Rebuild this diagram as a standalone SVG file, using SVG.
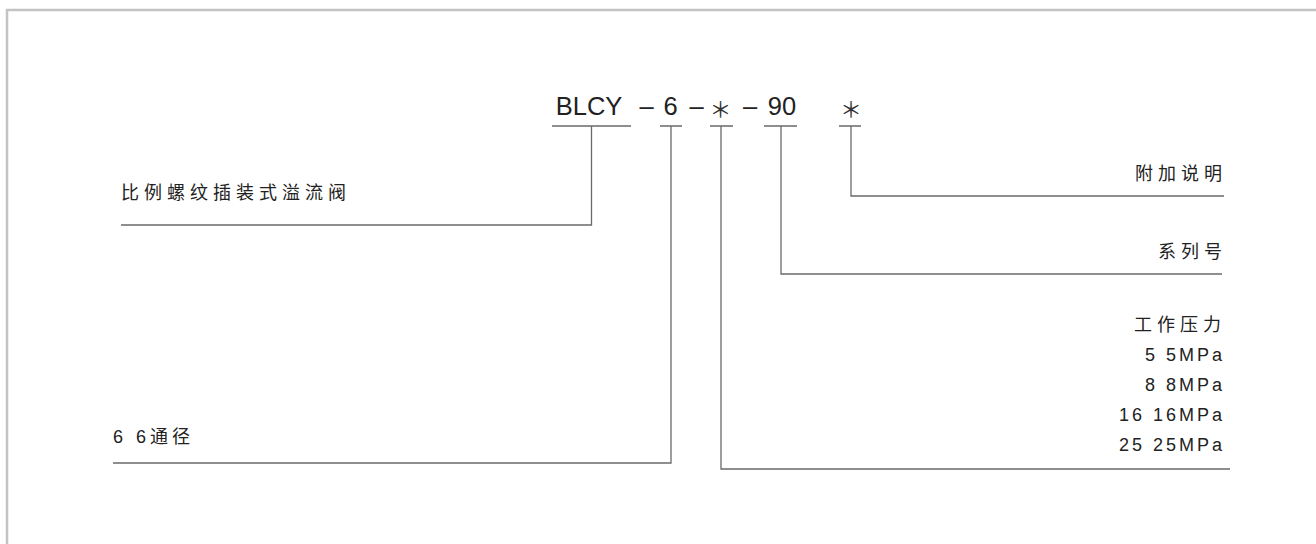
<svg xmlns="http://www.w3.org/2000/svg" width="1316" height="544" viewBox="0 0 1316 544">
<style>
.code{font-family:"Liberation Sans",Arial,sans-serif;font-size:25.5px;fill:#222;text-anchor:middle}
.star{font-family:"Noto Sans CJK SC",sans-serif;font-size:22px;fill:#333;text-anchor:middle}
.cjk{font-family:"Noto Sans CJK SC",sans-serif;font-size:18px;fill:#222;letter-spacing:5px}
.num{font-family:"Liberation Sans","Noto Sans CJK SC",sans-serif;font-size:18px;fill:#222;letter-spacing:3px}
.end{text-anchor:end}
.ln{fill:none;stroke:#6a6a6a;stroke-width:1.3}
</style>
<rect width="1316" height="544" fill="#fff"/>
<path d="M7,544 V10 H1316" fill="none" stroke="#c3c3c3" stroke-width="2.5"/>
<g id="code">
<text class="code" x="589" y="115">BLCY</text>
<text class="code" x="646.5" y="115">–</text>
<text class="code" x="670.5" y="115">6</text>
<text class="code" x="696.5" y="115">–</text>
<text class="star" x="720.5" y="116.5">＊</text>
<text class="code" x="750" y="115">–</text>
<text class="code" x="782" y="115">90</text>
<text class="star" x="851" y="116.5">＊</text>
</g>
<g id="connectors">
<path class="ln" d="M552,126 H631 M660,126 H682 M710,126 H733 M764,126 H797 M839,126 H861"/>
<path class="ln" d="M591.5,126 V225 H121"/>
<path class="ln" d="M671,126 V463 H113"/>
<path class="ln" d="M721,126 V469 H1230"/>
<path class="ln" d="M781,126 V274 H1222"/>
<path class="ln" d="M851,126 V196 H1224"/>
</g>
<g id="n-valve"><text class="cjk" x="121" y="199">比例螺纹插装式溢流阀</text></g>
<g id="n-bore"><text class="num" x="113" y="443" style="letter-spacing:4px">6 6通径</text></g>
<g id="n-extra"><text class="cjk end" x="1227" y="180">附加说明</text></g>
<g id="n-series"><text class="cjk end" x="1227" y="258">系列号</text></g>
<g id="n-pressure">
<text class="cjk end" x="1226" y="331">工作压力</text>
<text class="num end" x="1225" y="361">5 5MPa</text>
<text class="num end" x="1225" y="391">8 8MPa</text>
<text class="num end" x="1225" y="421">16 16MPa</text>
<text class="num end" x="1225" y="451">25 25MPa</text>
</g>
</svg>
